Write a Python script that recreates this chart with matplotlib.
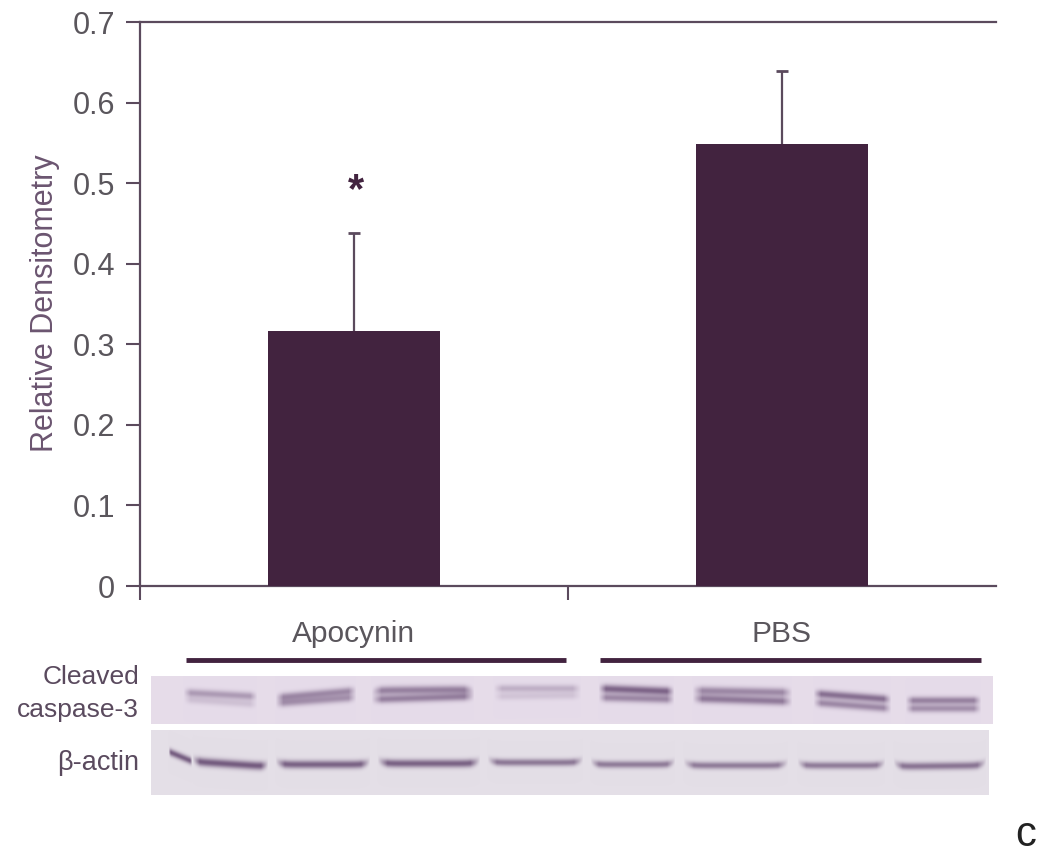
import numpy as np
import matplotlib as mpl
mpl.use("Agg")
import matplotlib.pyplot as plt

plt.rcParams["font.family"] = ["Liberation Sans", "DejaVu Sans"]

W, H = 1050, 856
DARK = "#42233f"
AXC = "#5b4a5d"
TXT = "#5a565c"

groups = ["Apocynin", "PBS"]
means = [0.316, 0.549]
errs = [0.122, 0.090]
yticks = [0, 0.1, 0.2, 0.3, 0.4, 0.5, 0.6, 0.7]
yticklabels = ["0", "0.1", "0.2", "0.3", "0.4", "0.5", "0.6", "0.7"]

# blot bands, picture px: x0, x1, y at x0, y at x1, thickness, strength, upturned ends
caspase_bands = [
    (183, 257, 692, 696, 4.0, .36, 0), (183, 257, 699, 704, 3.8, .14, 0),
    (275, 356, 697, 690, 4.0, .44, 0), (275, 356, 703, 697, 4.0, .40, 0),
    (371, 474, 690, 689, 4.2, .50, -2), (371, 474, 699, 696, 4.0, .50, 0),
    (493, 581, 688, 688, 3.8, .24, 0), (493, 581, 696, 695, 3.8, .13, 0),
    (598, 674, 688, 691, 4.2, .66, 0), (598, 674, 697, 699, 4.0, .46, 0),
    (692, 792, 690, 692, 4.2, .46, 0), (692, 792, 698, 701, 4.2, .54, 0),
    (813, 891, 693, 699, 4.0, .60, 0), (813, 891, 702, 708, 4.0, .46, 0),
    (905, 981, 700, 700, 3.8, .50, 0), (905, 981, 708, 708, 3.8, .42, 0),
]
actin_bands = [
    (168, 192, 751, 761, 3.6, .70, 0), (192, 268, 761, 766, 4.2, .72, 3),
    (275, 370, 764, 764, 4.0, .68, 4), (377, 480, 763, 763, 4.0, .68, 4),
    (487, 583, 762, 762, 3.6, .56, 4), (590, 675, 764, 764, 3.6, .54, 4),
    (683, 788, 765, 765, 3.6, .54, 4), (797, 885, 765, 765, 3.6, .54, 4),
    (893, 986, 766, 765, 3.8, .58, 5),
]


def blot_image(x0, x1, y0, y1, bands, shade):
    # soft bands on a flat membrane colour
    xx, yy = np.meshgrid(np.arange(x0, x1), np.arange(y0, y1))
    dens = np.zeros(xx.shape)
    for bx0, bx1, by0, by1, thick, strength, turn in bands:
        t = (xx - bx0) / (bx1 - bx0)
        edge = np.clip(t * 10, 0, 1) * np.clip((1 - t) * 10, 0, 1)
        tc = np.clip(t, 0, 1)
        yc = by0 + tc * (by1 - by0) - turn * (2 * tc - 1) ** 10
        dens += strength * edge * np.exp(-((yy - yc) / thick) ** 2)
    dens = np.clip(dens, 0, 1)[..., None]
    band = np.array(mpl.colors.to_rgb("#4a2a58"))
    base = np.array(mpl.colors.to_rgb(shade))
    return base * (1 - dens) + band * dens


fig = plt.figure(figsize=(W / 100, H / 100), dpi=100)


def px_axes(x0, y0, x1, y1, **kw):
    return fig.add_axes([x0 / W, 1 - y1 / H, (x1 - x0) / W, (y1 - y0) / H], **kw)


ax = px_axes(140, 22, 996, 586)
x = np.arange(len(groups))
ax.bar(x, means, width=0.4, color=DARK, zorder=3)
cont = ax.errorbar(x, means, yerr=[[0, 0], errs], fmt="none", ecolor=AXC, elinewidth=1.6,
                   capsize=4.5, capthick=2.0, zorder=2)
cont[1][0].set_visible(False)  # lower cap would poke out of the bar top
ax.set_xlim(-0.5, 1.5)
ax.set_ylim(0, 0.7)
ax.set_yticks(yticks)
ax.set_yticklabels(yticklabels)
ax.set_xticks([-0.5, 0.5])
ax.set_xticklabels([])
ax.tick_params(axis="y", length=10, width=1.5, color=AXC, labelsize=22, labelcolor=TXT, pad=8)
ax.tick_params(axis="x", length=10, width=1.5, color=AXC)
for s in ("top", "left", "bottom"):
    ax.spines[s].set_color(AXC)
    ax.spines[s].set_linewidth(1.6)
ax.spines["right"].set_visible(False)
ax.set_ylabel("Relative Densitometry", fontsize=22, color="#6b5570")
ax.yaxis.set_label_coords(-0.094, 0.502)
ax.text(0.005, 0.49, "*", fontsize=30, color=DARK, ha="center", va="center", fontweight="bold")

# overlay for everything under the plot, in picture pixels
ov = fig.add_axes([0, 0, 1, 1], zorder=-1)
ov.imshow(blot_image(151, 993, 676, 724, caspase_bands, "#e6dcea"),
          extent=(151, 993, 724, 676), interpolation="bilinear", aspect="auto")
ov.imshow(blot_image(151, 989, 730, 795, actin_bands, "#e4dfe7"),
          extent=(151, 989, 795, 730), interpolation="bilinear", aspect="auto")
ov.set_xlim(0, W)
ov.set_ylim(H, 0)
ov.axis("off")
ov.plot([186, 566], [660, 660], color=DARK, lw=3.5, solid_capstyle="butt")
ov.plot([600, 981], [660, 660], color=DARK, lw=3.5, solid_capstyle="butt")
ov.text(354, 634, groups[0], fontsize=21.5, color=TXT, ha="center", va="center")
ov.text(782, 634, groups[1], fontsize=21.5, color=TXT, ha="center", va="center")
ov.text(139, 677, "Cleaved", fontsize=19, color="#5a4a5e", ha="right", va="center")
ov.text(139, 710, "caspase-3", fontsize=19, color="#5a4a5e", ha="right", va="center")
ov.text(139, 763, "β-actin", fontsize=19.5, color="#5a4a5e", ha="right", va="center")
ov.text(1026, 835, "c", fontsize=30, color="#222222", ha="center", va="center")

fig.savefig("out.png", dpi=100)
plt.close(fig)
